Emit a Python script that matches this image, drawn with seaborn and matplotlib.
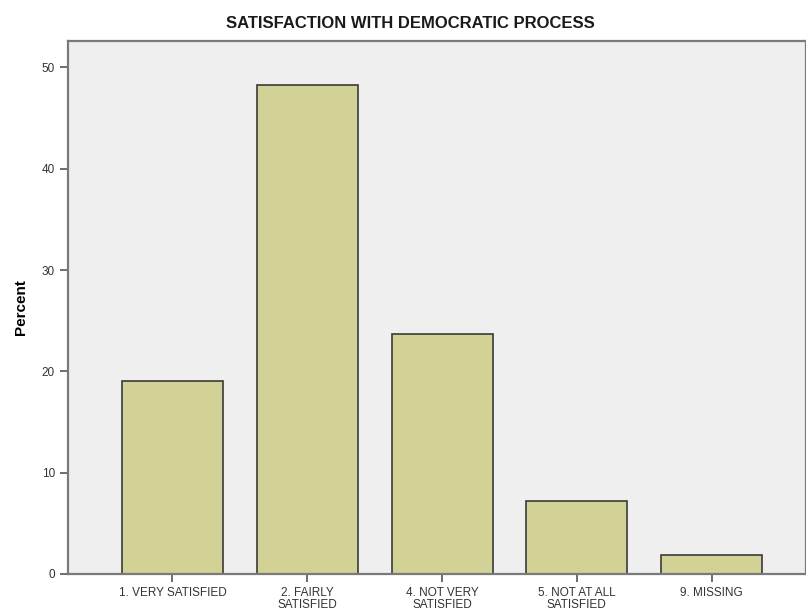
import matplotlib
matplotlib.use('Agg')
import matplotlib.pyplot as plt
import seaborn as sns
import pandas as pd

# 数据
categories = ['1. VERY SATISFIED', '2. FAIRLY\nSATISFIED', '4. NOT VERY\nSATISFIED',
              '5. NOT AT ALL\nSATISFIED', '9. MISSING']
percent = [19.0, 48.3, 23.7, 7.2, 1.9]
y_ticks = [0, 10, 20, 30, 40, 50]

df = pd.DataFrame({'Category': categories, 'Percent': percent})

plt.rcParams['font.family'] = ['Liberation Sans', 'DejaVu Sans']

fig = plt.figure(figsize=(8.06, 6.15), dpi=100)
ax = fig.add_axes([68 / 806, 41 / 615, 1 - 68 / 806, 533 / 615])
ax.set_facecolor('#EFEFEF')

sns.barplot(data=df, x='Category', y='Percent', color='#D2D296', edgecolor='#3A3A3A',
            linewidth=1.2, width=0.75, saturation=1, ax=ax)

ax.set_xlim(-0.775, 4.70)
ax.set_ylim(0, 52.6)
ax.set_yticks(y_ticks)

# 坐标轴样式
for side in ['left', 'top', 'bottom', 'right']:
    ax.spines[side].set_color('#7A7A7A')
    ax.spines[side].set_linewidth(1.6)
ax.tick_params(axis='both', colors='#555555', length=6, width=1.2, labelsize=8.5, labelcolor='#333333')
ax.tick_params(axis='x', pad=3)
for lab in ax.get_xticklabels():
    lab.set_linespacing(1.0)

ax.set_xlabel('')
ax.set_ylabel('Percent', fontsize=11, fontweight='bold', labelpad=10)
fig.text(410 / 806, 1 - 23 / 615, 'SATISFACTION WITH DEMOCRATIC PROCESS',
         ha='center', va='center', fontsize=12, fontweight='bold', color='#1A1A1A')

plt.savefig('out.png', dpi=100)
